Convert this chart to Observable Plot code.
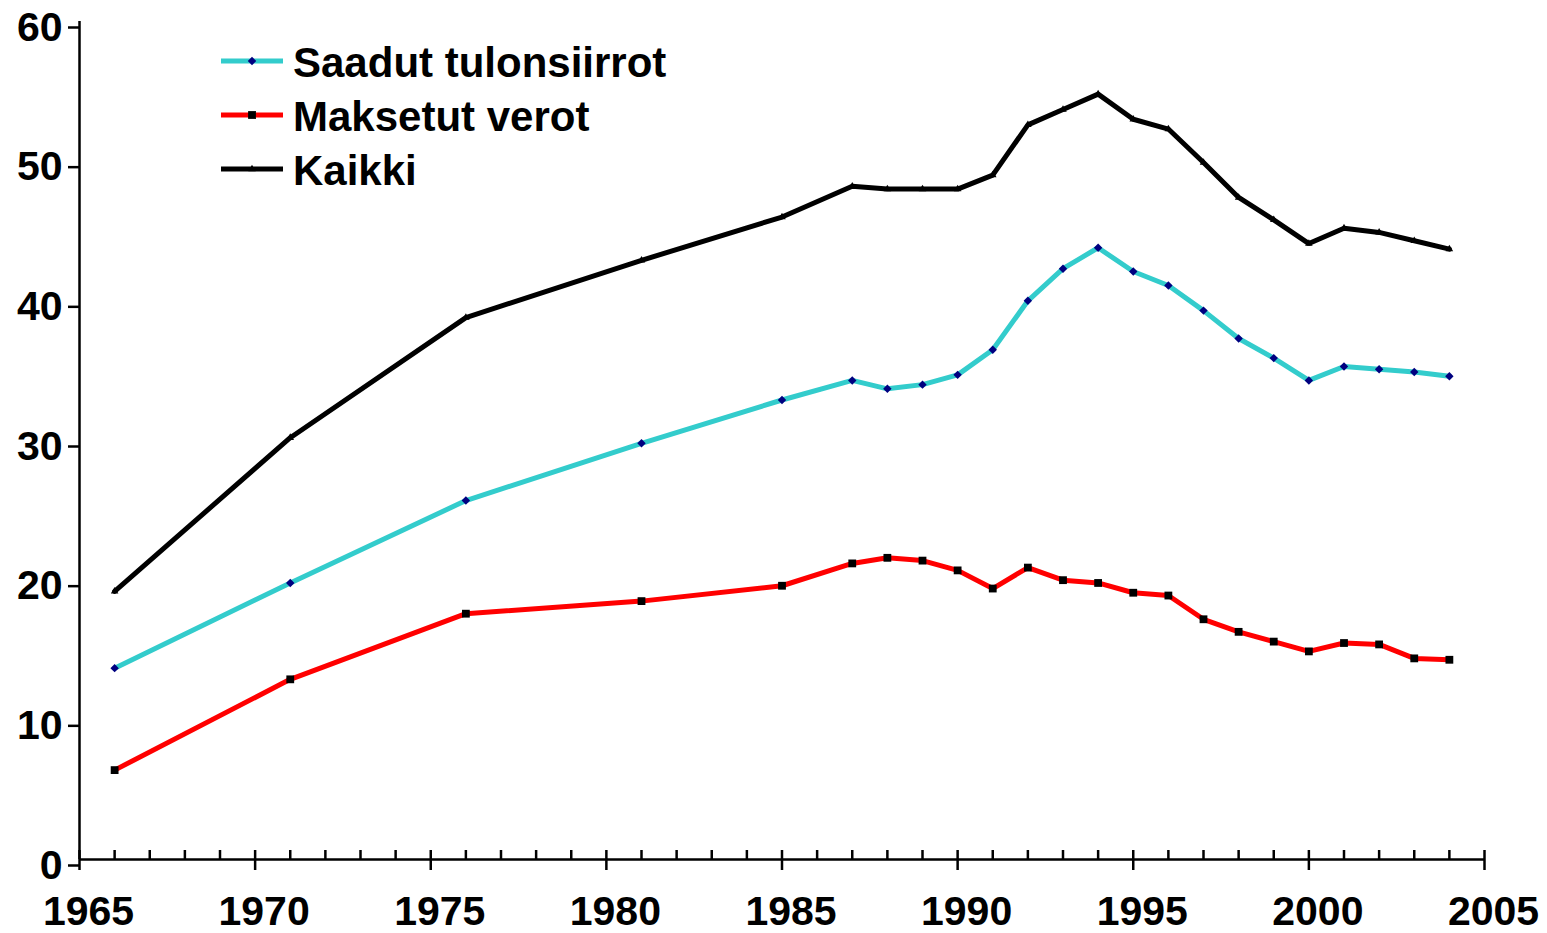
<!DOCTYPE html>
<html>
<head>
<meta charset="utf-8">
<script src="https://cdn.jsdelivr.net/npm/d3@7"></script>
<script src="https://cdn.jsdelivr.net/npm/@observablehq/plot@0.6"></script>
<style>
  html, body { margin: 0; padding: 0; background: #fff; }
  #wrap { position: relative; width: 1547px; height: 933px; overflow: hidden; font-family: "Liberation Sans", Arial, sans-serif; }
  #wrap > svg { display: block; }
  #legend { position: absolute; left: 221px; top: 34px; }
  .item { display: flex; align-items: center; height: 54.2px; }
  .item svg { display: block; }
  .item span { font-weight: bold; font-size: 42px; color: #000; margin-left: 10px; line-height: 1; position: relative; top: 2px; white-space: nowrap; }
</style>
</head>
<body>
<div id="wrap"><div id="legend"></div></div>
<script>
const years = [1966,1971,1976,1981,1985,1987,1988,1989,1990,1991,1992,1993,1994,1995,1996,1997,1998,1999,2000,2001,2002,2003,2004];
const saadut = [13.7,19.8,25.7,29.8,32.9,34.3,33.7,34.0,34.7,36.5,40.0,42.3,43.8,42.1,41.1,39.3,37.3,35.9,34.3,35.3,35.1,34.9,34.6];
const maksetut = [6.4,12.9,17.6,18.5,19.6,21.2,21.6,21.4,20.7,19.4,20.9,20.0,19.8,19.1,18.9,17.2,16.3,15.6,14.9,15.5,15.4,14.4,14.3];
const kaikki = [19.2,30.2,38.8,42.9,46.0,48.2,48.0,48.0,48.0,49.0,52.6,53.7,54.8,53.0,52.3,49.9,47.4,45.8,44.1,45.2,44.9,44.3,43.7];
const seriesNames = ["Saadut tulonsiirrot", "Maksetut verot", "Kaikki"];
const yTicks = [0,10,20,30,40,50,60];
const xMajor = [1965,1970,1975,1980,1985,1990,1995,2000,2005];
const xMinor = d3.range(1965, 2006).filter(y => y % 5 !== 0);

const styles = [
  {line: "#33CCCC", mark: "#000080", symbol: "diamond2", r: 3.8},
  {line: "#FF0000", mark: "#000000", symbol: "square", r: 4.4},
  {line: "#000000", mark: "#000000", symbol: "triangle", r: 2.8}
];
const values = [saadut, maksetut, kaikki];
const rows = values.map((vals, i) => years.map((yr, j) => ({year: yr, value: vals[j], series: seriesNames[i]})));

const W = 1547, H = 933, mT = 21, mB = 74, mL = 79, mR = 63;
const frameH = H - mT - mB;

const marks = [];
rows.forEach((data, i) => {
  marks.push(Plot.line(data, {x: "year", y: "value", stroke: styles[i].line, strokeWidth: 5, strokeLinejoin: "miter"}));
  marks.push(Plot.dot(data, {x: "year", y: "value", symbol: styles[i].symbol, r: styles[i].r, fill: styles[i].mark, stroke: "none"}));
});

const chart = Plot.plot({
  width: W, height: H,
  marginTop: mT, marginBottom: mB, marginLeft: mL, marginRight: mR,
  style: {fontFamily: "'Liberation Sans', Arial, sans-serif", background: "#fff", overflow: "visible"},
  x: {domain: [1965, 2005]},
  y: {domain: [0, 60]},
  marks: [
    Plot.axisY({ticks: yTicks, tickSize: 11, tickPadding: 6, strokeWidth: 2.5, fontSize: 41, fontWeight: "bold", fill: "#000", dy: 6, label: null}),
    Plot.axisX({ticks: xMajor, tickSize: 0, tickPadding: 36, fontSize: 41, fontWeight: "bold", fill: "#000", dx: 9, tickFormat: d => String(d), label: null}),
    Plot.tickX(xMinor, {x: d => d, insetTop: frameH - 9, strokeWidth: 2.5, stroke: "#000"}),
    Plot.tickX(xMajor, {x: d => d, insetTop: frameH - 9, insetBottom: -11, strokeWidth: 2.5, stroke: "#000"}),
    Plot.ruleX([1965], {y1: 0, y2: 60, strokeWidth: 2.5, stroke: "#000"}),
    Plot.ruleY([0], {x1: 1965, x2: 2005, strokeWidth: 2.5, stroke: "#000"}),
    ...marks
  ]
});
const wrap = document.getElementById("wrap");
wrap.insertBefore(chart, wrap.firstChild);

// Legend
const legend = document.getElementById("legend");
const symPaths = {diamond2: d3.symbolDiamond2, square: d3.symbolSquare, triangle: d3.symbolTriangle};
seriesNames.forEach((name, i) => {
  const s = styles[i];
  const item = document.createElement("div");
  item.className = "item";
  const sym = d3.symbol(symPaths[s.symbol], Math.PI * s.r * s.r)();
  item.innerHTML = `<svg width="62" height="20" viewBox="0 0 62 20"><line x1="0" x2="62" y1="10" y2="10" stroke="${s.line}" stroke-width="5"/><path transform="translate(31,10)" d="${sym}" fill="${s.mark}"/></svg><span>${name}</span>`;
  legend.appendChild(item);
});
</script>
</body>
</html>
